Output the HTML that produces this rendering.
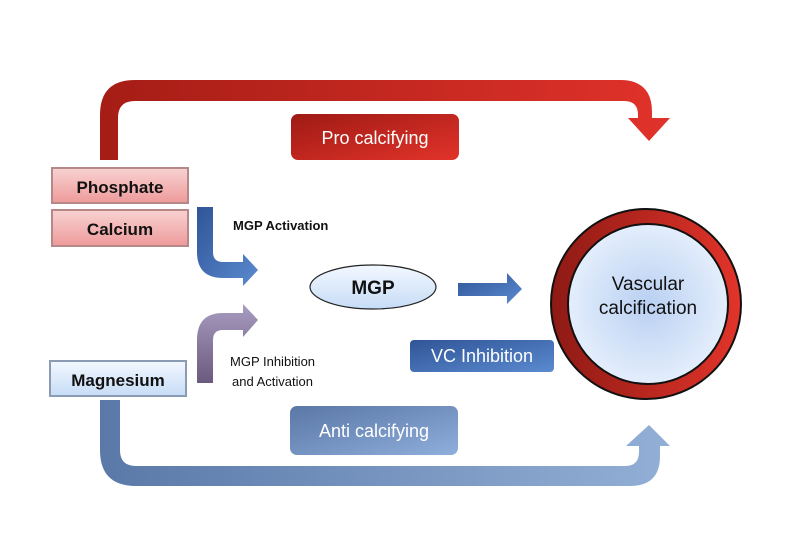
<!DOCTYPE html>
<html><head><meta charset="utf-8"><style>
body{margin:0;background:#fff}
svg text{font-family:"Liberation Sans",sans-serif}
</style></head><body>
<svg width="808" height="550" viewBox="0 0 808 550" xmlns="http://www.w3.org/2000/svg">
<defs>
<linearGradient id="red" x1="0" y1="0" x2="1" y2="1"><stop offset="0" stop-color="#9e1a14"/><stop offset="1" stop-color="#e2332a"/></linearGradient>
<linearGradient id="redh" x1="0" y1="0" x2="1" y2="0"><stop offset="0" stop-color="#a51d16"/><stop offset="1" stop-color="#e0322a"/></linearGradient>
<linearGradient id="pink" x1="0" y1="0" x2="0" y2="1"><stop offset="0" stop-color="#f8d2d2"/><stop offset="1" stop-color="#ee9a9a"/></linearGradient>
<linearGradient id="lb" x1="0" y1="0" x2="0" y2="1"><stop offset="0" stop-color="#f3f8ff"/><stop offset="1" stop-color="#c6dcf6"/></linearGradient>
<linearGradient id="blue" x1="0" y1="0" x2="1" y2="1"><stop offset="0" stop-color="#2f5597"/><stop offset="1" stop-color="#5b8ad0"/></linearGradient>
<linearGradient id="bot" x1="0" y1="0" x2="1" y2="0"><stop offset="0" stop-color="#5a79a8"/><stop offset="1" stop-color="#92afd6"/></linearGradient>
<linearGradient id="anti" x1="0" y1="0" x2="1" y2="1"><stop offset="0" stop-color="#5a77a6"/><stop offset="1" stop-color="#8eaedb"/></linearGradient>
<linearGradient id="purp" x1="0" y1="1" x2="0" y2="0"><stop offset="0" stop-color="#6a5a7e"/><stop offset="1" stop-color="#a89cc0"/></linearGradient>
<radialGradient id="circ"><stop offset="0" stop-color="#b9d0f2"/><stop offset="1" stop-color="#e4eefc"/></radialGradient>
<linearGradient id="ring" x1="0" y1="0" x2="1" y2="0"><stop offset="0" stop-color="#8e1a14"/><stop offset="1" stop-color="#e2342a"/></linearGradient>
</defs>
<path d="M100 160 V115 Q100 80 135 80 H620 Q652 80 652 112 V118 H670 L649 141 L628 118 H638 V115 Q638 101 624 101 H135 Q118 101 118 118 V160 Z" fill="url(#redh)"/>
<path d="M100 400 V450 Q100 486 136 486 H630 Q660 486 660 456 V446 H670 L649 425 L626 446 H639 V452 Q639 466 625 466 H136 Q120 466 120 450 V400 Z" fill="url(#bot)"/>
<rect x="52" y="168" width="136" height="35" fill="url(#pink)" stroke="#b78888" stroke-width="2"/>
<text x="120" y="193" text-anchor="middle" font-size="17" font-weight="bold" fill="#111">Phosphate</text>
<rect x="52" y="210" width="136" height="36" fill="url(#pink)" stroke="#b78888" stroke-width="2"/>
<text x="120" y="235" text-anchor="middle" font-size="17" font-weight="bold" fill="#111">Calcium</text>
<rect x="50" y="361" width="136" height="35" fill="url(#lb)" stroke="#8a9bb3" stroke-width="2"/>
<text x="118" y="386" text-anchor="middle" font-size="17" font-weight="bold" fill="#111">Magnesium</text>
<rect x="291" y="114" width="168" height="46" rx="7" fill="url(#red)"/>
<text x="375" y="144" text-anchor="middle" font-size="18" fill="#fff">Pro calcifying</text>
<rect x="290" y="406" width="168" height="49" rx="7" fill="url(#anti)"/>
<text x="374" y="437" text-anchor="middle" font-size="18" fill="#fff">Anti calcifying</text>
<rect x="410" y="340" width="144" height="32" rx="4" fill="url(#blue)"/>
<text x="482" y="362" text-anchor="middle" font-size="18" fill="#fff">VC Inhibition</text>
<path d="M197 207 H213 V252 Q213 262 223 262 H243 V254 L258 270 L243 286 V278 H223 Q197 278 197 252 Z" fill="url(#blue)"/>
<path d="M197 383 H213 V340 Q213 330 223 330 H243 V337 L258 320 L243 304 V313 H223 Q197 313 197 340 Z" fill="url(#purp)"/>
<path d="M458 283 H507 V273 L522 289 L507 304 V296 H458 Z" fill="url(#blue)"/>
<text x="233" y="230" font-size="13" font-weight="bold" fill="#111">MGP Activation</text>
<text x="230" y="366" font-size="13" fill="#111">MGP Inhibition</text>
<text x="232" y="386" font-size="13" fill="#111">and Activation</text>
<ellipse cx="373" cy="287" rx="63" ry="22" fill="url(#lb)" stroke="#222" stroke-width="1.2"/>
<text x="373" y="294" text-anchor="middle" font-size="19" font-weight="bold" fill="#111">MGP</text>
<circle cx="646" cy="304" r="95" fill="url(#ring)" stroke="#111" stroke-width="2"/>
<circle cx="648" cy="304" r="80" fill="url(#circ)" stroke="#111" stroke-width="2"/>
<text x="648" y="290" text-anchor="middle" font-size="19" fill="#111">Vascular</text>
<text x="648" y="314" text-anchor="middle" font-size="19" fill="#111">calcification</text>
</svg>
</body></html>
